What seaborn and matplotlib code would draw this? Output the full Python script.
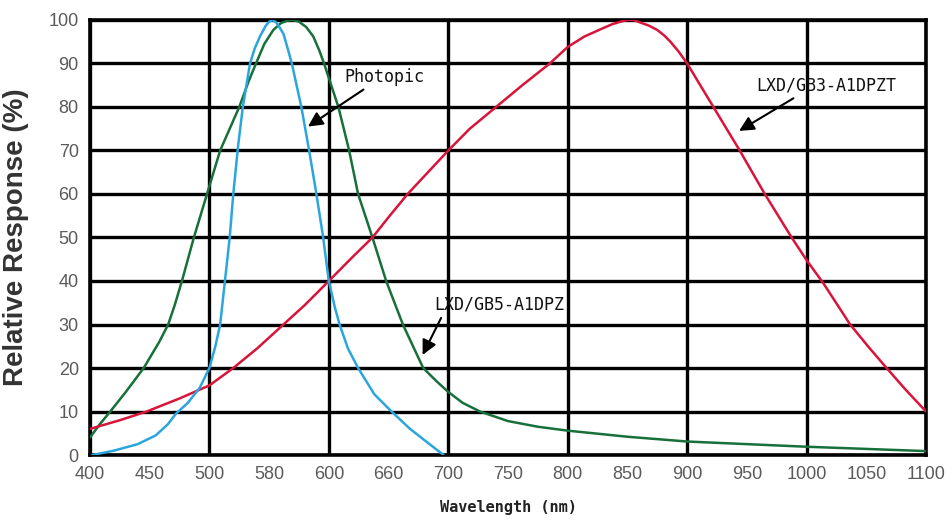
import matplotlib
matplotlib.use("Agg")
import matplotlib.pyplot as plt
from matplotlib.ticker import MultipleLocator
import seaborn as sns

# ---- data ----
blue_x = [402, 420, 440, 455, 465, 472, 482, 492, 500, 505, 509, 513, 517, 520, 524, 528, 534, 538, 542.5, 547, 550, 553,
          556, 559, 562, 566, 569, 573, 577, 583.5, 589, 595, 600, 605, 609, 616, 624.5, 638, 652.5, 668, 682, 696]
blue_y = [0, 1, 2.5, 4.5, 7, 9.5, 12, 15.5, 20, 25, 30, 40, 50, 60, 71, 80, 90, 93.5, 96.3, 98.6, 99.6, 100,
          99.4, 98.2, 96.8, 93, 90, 85, 80, 70, 61, 50.5, 40, 34, 30, 24.5, 20, 14, 10, 6, 3, 0]

green_x = [400, 408, 417, 430, 445, 458, 465.5, 471, 477, 487, 498, 509, 525, 533, 539, 546, 553.5, 560, 566, 570, 575,
           581, 587, 592, 596, 602, 608, 617, 624.5, 636.5, 648, 662, 679, 690, 700, 712, 726.5, 750, 775, 800, 850,
           900, 950, 1000, 1050, 1100]
green_y = [4, 7, 10, 14.5, 20, 26, 30, 34.5, 40, 50, 60, 70, 80, 86, 90, 94.5, 97.7, 99.3, 99.9, 100, 99.6,
           98.4, 96.2, 93, 90, 85, 80, 70, 60, 50, 40, 30, 20, 17, 14.5, 12, 10, 7.8, 6.5, 5.6, 4.2,
           3.1, 2.5, 1.9, 1.4, 0.9]

red_x = [400, 425, 447.5, 475, 500, 520, 540, 562, 580, 600, 618, 636.5, 651, 666, 683, 700, 718, 740, 762, 785,
         800, 814, 827, 837, 844, 850, 855, 861, 868, 875, 881, 886, 893, 900, 911, 922, 944, 965, 987.5, 1000,
         1014, 1036.5, 1052, 1067, 1083, 1100]
red_y = [6, 8, 10, 13, 16, 20, 24.5, 30, 34.5, 40, 45, 50, 55, 60, 65, 70, 75, 80, 85, 90,
         93.8, 96.2, 97.8, 99, 99.6, 100, 100, 99.4, 98.7, 97.7, 96.4, 95, 92.7, 90, 85, 80, 70, 60, 50, 44.8,
         39.5, 30, 24.8, 20, 15, 10]

x_ticks = [400, 450, 500, 550, 600, 650, 700, 750, 800, 850, 900, 950, 1000, 1050, 1100]
x_tick_labels = ["400", "450", "500", "580", "600", "660", "700", "750", "800", "850",
                 "900", "950", "1000", "1050", "1100"]
y_ticks = [0, 10, 20, 30, 40, 50, 60, 70, 80, 90, 100]

labels = ["Photopic", "LXD/GB3-A1DPZT", "LXD/GB5-A1DPZ"]

# ---- plot ----
sns.set_theme(style="white")
fig = plt.figure(figsize=(9.52, 5.23), dpi=100)
ax = fig.add_axes([0.0945, 0.130, 0.8782, 0.8318])

sns.lineplot(x=green_x, y=green_y, ax=ax, color="#17703a", linewidth=1.8, sort=False, zorder=3)
sns.lineplot(x=red_x, y=red_y, ax=ax, color="#d8143a", linewidth=1.8, sort=False, zorder=3)
sns.lineplot(x=blue_x, y=blue_y, ax=ax, color="#2ba6dd", linewidth=1.8, sort=False, zorder=3)

ax.set_xlim(400, 1100)
ax.set_ylim(0, 100)
ax.set_xticks(x_ticks)
ax.set_xticklabels(x_tick_labels)
ax.set_yticks(y_ticks)
ax.xaxis.remove_overlapping_locs = False
ax.xaxis.set_minor_locator(MultipleLocator(100))
ax.grid(False)
ax.grid(which="minor", axis="x", color="black", linewidth=2.4, zorder=1)
ax.grid(which="major", axis="y", color="black", linewidth=2.4, zorder=1)
ax.set_axisbelow(True)
for s in ax.spines.values():
    s.set_color("black")
    s.set_linewidth(2.6)
ax.tick_params(which="both", length=0, pad=8, labelsize=13, labelcolor="#5a5a5a")
for lab in ax.get_xticklabels() + ax.get_yticklabels():
    lab.set_family("Liberation Sans")

ax.set_xlabel("Wavelength (nm)", family="DejaVu Sans Mono", fontsize=11, fontweight="bold",
              color="#222222", labelpad=12)
ax.set_ylabel("Relative Response (%)", family="Liberation Sans", fontsize=20, fontweight="bold",
              color="#333333", labelpad=14)

arrow = dict(arrowstyle="-|>", color="black", lw=1.5, mutation_scale=22, shrinkA=0, shrinkB=0)
txt = dict(family="DejaVu Sans Mono", fontsize=12, color="#111111", va="center", ha="left")
ax.annotate("", xy=(582.5, 75.5), xytext=(629, 84), arrowprops=arrow, zorder=5)
ax.text(613, 86.8, labels[0], **txt, zorder=5)
ax.annotate("", xy=(943.5, 74.5), xytext=(989, 82), arrowprops=arrow, zorder=5)
ax.text(958, 85, labels[1], **txt, zorder=5)
ax.annotate("", xy=(678.5, 23), xytext=(694, 31.5), arrowprops=arrow, zorder=5)
ax.text(688, 34.5, labels[2], **txt, zorder=5)

fig.savefig("out.png", dpi=100)
